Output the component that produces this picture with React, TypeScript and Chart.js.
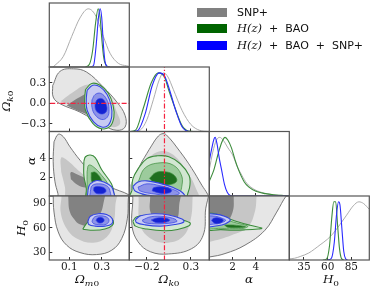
import React, { useEffect, useRef } from "react";
import { Chart, registerables } from "chart.js";

Chart.register(...registerables);

type Pt = [number, number];

const W = 374;
const H = 291;

// ---------- axis ranges ----------
const OM_RANGE: Pt = [-0.023, 0.47];
const OK_RANGE_X: Pt = [-0.4, 0.51];
const OK_RANGE_Y: Pt = [-0.41, 0.53];
const ALPHA_RANGE_X: Pt = [0, 6.86];
const ALPHA_RANGE_Y: Pt = [0, 6.9];
const H0_RANGE_X: Pt = [19.5, 104];
const H0_RANGE_Y: Pt = [21, 98.5];
const PDF_RANGE: Pt = [0, 1.1];

// ---------- ticks ----------
const OM_TICKS = [0.1, 0.3];
const OK_TICKS_X = [-0.2, 0.3];
const OK_TICKS_Y = [-0.3, 0.0, 0.3];
const ALPHA_TICKS = [2, 4];
const H0_TICKS_X = [35, 60, 85];
const H0_TICKS_Y = [30, 60, 90];

// reference line Omega_k0 = 0
const OK_REFERENCE = 0;

// ---------- legend ----------
const LEGEND_MATH = ["", "H(z)", "H(z)"];
const LEGEND_TEXT = ["SNP+", " + BAO", " + BAO + SNP+"];

// ---------- 1D marginals (normalised) ----------
const OM_PDF_SNP: Pt[] = [[0.0, 0], [0.012, 0.03], [0.063, 0.18], [0.115, 0.525], [0.166, 0.844], [0.217, 1.0], [0.259, 0.9], [0.31, 0.525], [0.351, 0.237], [0.402, 0.064], [0.454, 0.02], [0.47, 0.01]];
const OM_PDF_HZ: Pt[] = [[0.2, 0], [0.225, 0.05], [0.245, 0.3], [0.262, 0.75], [0.278, 1.0], [0.29, 0.85], [0.3, 0.5], [0.313, 0.15], [0.33, 0.02], [0.35, 0]];
const OM_PDF_ALL: Pt[] = [[0.23, 0], [0.25, 0.03], [0.265, 0.35], [0.28, 0.85], [0.29, 1.0], [0.3, 0.85], [0.31, 0.4], [0.32, 0.1], [0.335, 0.01], [0.35, 0]];

const OK_PDF_SNP: Pt[] = [[-0.35, 0], [-0.28, 0.02], [-0.2, 0.2], [-0.125, 0.55], [-0.06, 0.88], [-0.01, 1.0], [0.04, 0.93], [0.1, 0.72], [0.2, 0.36], [0.3, 0.12], [0.4, 0.02], [0.5, 0]];
const OK_PDF_HZ: Pt[] = [[-0.4, 0], [-0.33, 0.02], [-0.24, 0.4], [-0.15, 0.83], [-0.07, 1.0], [0.0, 0.93], [0.05, 0.7], [0.12, 0.4], [0.2, 0.1], [0.27, 0.01], [0.35, 0]];
const OK_PDF_ALL: Pt[] = [[-0.35, 0], [-0.3, 0.02], [-0.22, 0.3], [-0.14, 0.78], [-0.06, 1.0], [0.0, 0.95], [0.06, 0.7], [0.13, 0.35], [0.2, 0.08], [0.27, 0.005], [0.35, 0]];

const ALPHA_PDF_SNP: Pt[] = [[0, 0.45], [0.3, 0.75], [0.6, 0.95], [0.9, 1.0], [1.2, 0.95], [1.6, 0.82], [2.0, 0.7], [2.4, 0.5], [2.8, 0.35], [3.2, 0.22], [3.8, 0.12], [4.5, 0.06], [5.5, 0.02], [6.9, 0.0]];
const ALPHA_PDF_HZ: Pt[] = [[0, 0.25], [0.4, 0.45], [0.8, 0.75], [1.1, 0.93], [1.35, 1.0], [1.6, 0.95], [1.9, 0.82], [2.2, 0.62], [2.5, 0.45], [3.0, 0.24], [3.4, 0.15], [4.0, 0.08], [4.8, 0.04], [5.5, 0.02], [6.2, 0.01], [6.9, 0]];
const ALPHA_PDF_ALL: Pt[] = [[0, 0.6], [0.2, 0.8], [0.4, 0.97], [0.5, 1.0], [0.65, 0.9], [0.85, 0.65], [1.05, 0.45], [1.3, 0.2], [1.55, 0.06], [1.8, 0.01], [2.2, 0], [6.9, 0]];

const H0_PDF_SNP: Pt[] = [[19.5, 0.02], [25, 0.03], [31, 0.06], [40, 0.12], [52, 0.26], [60, 0.36], [66, 0.46], [73, 0.61], [80, 0.77], [87, 0.93], [93, 1.0], [98, 0.97], [104, 0.87]];
const H0_PDF_HZ: Pt[] = [[55, 0], [59, 0.02], [62, 0.25], [64.5, 0.75], [66.5, 1.0], [68.5, 1.0], [70.5, 0.6], [72.5, 0.2], [74.5, 0.03], [77, 0]];
const H0_PDF_ALL: Pt[] = [[60, 0], [64, 0.03], [67, 0.3], [69.5, 0.8], [71.5, 1.0], [73, 0.95], [75, 0.55], [77, 0.15], [79, 0.02], [81, 0]];

// ---------- 2D contours: [outer, middle, inner] ----------
// Omega_m0 (x) vs Omega_k0 (y)
const OMOK_SNP: Pt[][] = [
  [[-0.002, 0.26], [0.043, 0.466], [0.125, 0.504], [0.207, 0.456], [0.31, 0.237], [0.393, 0.02], [0.444, -0.175], [0.444, -0.345], [0.393, -0.393], [0.31, -0.32], [0.166, -0.127], [0.043, -0.005], [0.001, 0.092]],
  [[0.047, 0.03], [0.125, 0.165], [0.207, 0.27], [0.29, 0.25], [0.35, 0.12], [0.393, -0.127], [0.413, -0.297], [0.362, -0.345], [0.269, -0.248], [0.146, -0.078]],
  [[0.084, -0.03], [0.166, 0.092], [0.238, 0.165], [0.3, 0.12], [0.33, 0.0], [0.32, -0.15], [0.27, -0.2], [0.2, -0.15], [0.146, -0.1]],
];
const OMOK_HZ: Pt[][] = [
  [[0.2, 0.2], [0.238, 0.29], [0.29, 0.265], [0.34, 0.15], [0.37, -0.03], [0.375, -0.2], [0.35, -0.34], [0.3, -0.37], [0.245, -0.29], [0.2, -0.1], [0.195, 0.06]],
];
const OMOK_ALL: Pt[][] = [
  [[0.21, 0.19], [0.245, 0.265], [0.29, 0.24], [0.333, 0.13], [0.358, -0.03], [0.362, -0.19], [0.34, -0.32], [0.3, -0.345], [0.25, -0.27], [0.21, -0.1], [0.205, 0.06]],
  [[0.24, 0.05], [0.26, 0.13], [0.295, 0.145], [0.33, 0.06], [0.345, -0.08], [0.335, -0.2], [0.3, -0.235], [0.26, -0.17], [0.24, -0.06]],
  [[0.26, 0.0], [0.275, 0.06], [0.305, 0.065], [0.328, -0.02], [0.33, -0.11], [0.305, -0.155], [0.275, -0.13], [0.26, -0.07]],
];

// Omega_m0 (x) vs alpha (y)
const OMAL_SNP: Pt[][] = [
  [[0.006, 5.8], [0.032, 6.6], [0.063, 6.35], [0.104, 5.27], [0.166, 3.84], [0.248, 2.23], [0.351, 0.99], [0.47, 0.1], [0.5, -0.5], [0.04, -0.5], [0.03, 0.27], [0.012, 1.52], [0.001, 3.66]],
  [[0.05, 2.59], [0.05, 4.1], [0.085, 3.85], [0.166, 2.59], [0.27, 1.16], [0.36, 0.2], [0.38, -0.5], [0.09, -0.5], [0.073, 0.99]],
  [[0.11, 1.8], [0.11, 2.55], [0.15, 2.3], [0.21, 1.75], [0.23, 1.2], [0.2, 0.9], [0.15, 1.2]],
];
const OMAL_HZ: Pt[][] = [
  [[0.19, 3.7], [0.2, 4.2], [0.23, 4.38], [0.26, 4.1], [0.3, 2.8], [0.36, 1.3], [0.375, 0.3], [0.38, -0.5], [0.21, -0.5], [0.205, 0.8], [0.19, 2.2]],
  [[0.21, 2.6], [0.22, 3.3], [0.25, 3.1], [0.3, 2.2], [0.34, 1.2], [0.345, 0.3], [0.35, -0.5], [0.22, -0.5], [0.21, 1.5]],
  [[0.235, 2.5], [0.26, 2.55], [0.29, 2.0], [0.3, 1.4], [0.27, 1.2], [0.24, 1.5]],
];
const OMAL_ALL: Pt[][] = [
  [[0.22, 1.0], [0.23, 1.3], [0.27, 1.65], [0.32, 1.45], [0.36, 1.0], [0.375, 0.3], [0.38, -0.5], [0.22, -0.5], [0.215, 0.5]],
  [[0.23, 0.5], [0.24, 1.1], [0.28, 1.3], [0.33, 1.1], [0.35, 0.6], [0.35, -0.5], [0.23, -0.5]],
  [[0.25, 0.6], [0.255, 0.95], [0.29, 1.0], [0.32, 0.8], [0.325, 0.45], [0.3, 0.25], [0.265, 0.3]],
];

// Omega_m0 (x) vs H0 (y)
const OMH0_SNP: Pt[][] = [
  [[0.0, 110], [0.001, 99.3], [0.006, 79.1], [0.032, 55], [0.084, 38.9], [0.166, 30], [0.269, 27.6], [0.362, 32.9], [0.423, 46.9], [0.458, 71], [0.464, 95], [0.47, 110]],
  [[0.05, 110], [0.052, 98], [0.047, 79], [0.084, 59], [0.146, 47], [0.248, 42], [0.331, 49], [0.372, 65], [0.384, 87], [0.385, 110]],
  [[0.094, 110], [0.094, 97], [0.104, 79], [0.14, 68], [0.17, 64], [0.217, 63], [0.279, 73], [0.31, 89], [0.31, 110]],
];
const OMH0_HZ: Pt[][] = [
  [[0.183, 58.2], [0.25, 57], [0.32, 58.5], [0.365, 63], [0.37, 69], [0.34, 74.5], [0.29, 76], [0.24, 72], [0.2, 63.5]],
];
const OMH0_ALL: Pt[][] = [
  [[0.215, 68], [0.23, 74], [0.28, 77], [0.33, 76], [0.365, 71], [0.36, 64.5], [0.32, 62], [0.26, 62], [0.22, 64]],
  [[0.24, 68], [0.255, 73], [0.29, 74.5], [0.33, 73], [0.345, 69], [0.33, 64.5], [0.29, 63.5], [0.25, 65]],
  [[0.265, 69], [0.275, 72], [0.3, 72.5], [0.315, 69.5], [0.305, 66.5], [0.28, 66]],
];

// Omega_k0 (x) vs alpha (y)
const OKAL_SNP: Pt[][] = [
  [[-0.257, 3.66], [-0.143, 5.44], [-0.08, 6.3], [-0.03, 6.65], [0.02, 6.55], [0.178, 4.74], [0.311, 2.95], [0.425, 1.16], [0.49, 0.2], [0.52, -0.5], [-0.45, -0.5], [-0.39, 0.6], [-0.352, 1.88]],
  [[-0.39, 1.2], [-0.3, 2.5], [-0.2, 3.9], [-0.05, 4.8], [0.1, 4.4], [0.254, 2.59], [0.35, 1.0], [0.38, -0.5], [-0.45, -0.5]],
  [[-0.2, 1.0], [-0.15, 2.8], [0.0, 3.4], [0.15, 2.8], [0.22, 1.5], [0.2, 0.5], [0.0, 0.3]],
];
const OKAL_HZ: Pt[][] = [
  [[-0.37, 0.6], [-0.36, 1.8], [-0.3, 2.9], [-0.2, 4.0], [-0.08, 4.3], [0.05, 4.2], [0.18, 3.45], [0.28, 2.2], [0.29, 1.2], [0.27, 0.4], [0.22, -0.5], [-0.4, -0.5]],
  [[-0.3, 1.5], [-0.22, 3.0], [-0.05, 3.55], [0.1, 3.3], [0.19, 2.3], [0.2, 1.2], [0.15, 0.2], [-0.25, 0.2]],
  [[-0.17, 1.9], [-0.1, 2.5], [0.0, 2.6], [0.1, 2.3], [0.14, 1.6], [0.05, 1.2], [-0.1, 1.3]],
];
const OKAL_ALL: Pt[][] = [
  [[-0.36, 1.0], [-0.3, 1.5], [-0.2, 1.62], [-0.05, 1.35], [0.1, 0.9], [0.2, 0.4], [0.23, -0.1], [0.1, -0.3], [-0.2, 0.1], [-0.33, 0.5]],
  [[-0.3, 0.95], [-0.2, 1.3], [-0.05, 1.1], [0.1, 0.7], [0.17, 0.3], [0.1, 0.05], [-0.1, 0.2], [-0.28, 0.55]],
  [[-0.14, 0.55], [-0.12, 0.9], [0.0, 0.95], [0.08, 0.65], [0.06, 0.35], [-0.05, 0.3]],
];

// Omega_k0 (x) vs H0 (y)
const OKH0_SNP: Pt[][] = [
  [[-0.37, 110], [-0.36, 95], [-0.37, 63], [-0.3, 43], [-0.16, 31], [0.045, 28.3], [0.31, 34.8], [0.44, 51], [0.465, 79], [0.465, 110]],
  [[-0.3, 110], [-0.295, 97], [-0.276, 63], [-0.143, 46], [0.045, 42], [0.216, 50], [0.3, 71], [0.32, 97], [0.32, 110]],
  [[-0.165, 110], [-0.163, 97], [-0.16, 79], [-0.07, 65], [0.045, 61], [0.14, 69], [0.167, 87], [0.17, 110]],
];
const OKH0_HZ: Pt[][] = [
  [[-0.36, 68], [-0.32, 73], [-0.2, 75.5], [-0.05, 75], [0.15, 71], [0.29, 66], [0.28, 62.5], [0.15, 58], [0.0, 56.5], [-0.2, 58.5], [-0.33, 62]],
];
const OKH0_ALL: Pt[][] = [
  [[-0.33, 70], [-0.27, 74.5], [-0.12, 77], [0.05, 75.5], [0.2, 70.5], [0.22, 67], [0.12, 64], [-0.05, 62], [-0.22, 63.5], [-0.32, 66.5]],
  [[-0.25, 69.5], [-0.15, 73.5], [0.0, 73.5], [0.12, 70.5], [0.14, 67.5], [0.0, 65], [-0.15, 65], [-0.24, 67]],
  [[-0.15, 69.5], [-0.08, 72], [0.02, 71.5], [0.06, 69], [0.0, 66.5], [-0.1, 66.5]],
];

// alpha (x) vs H0 (y)
const ALH0_SNP: Pt[][] = [
  [[-0.5, 110], [6.9, 110], [6.9, 100], [6.63, 99.3], [5.78, 79], [4.77, 57], [3.06, 39], [1.35, 28.8], [0.06, 24.8], [-0.5, 24.5]],
  [[-0.5, 110], [4.05, 110], [4.05, 99], [3.9, 79], [3.3, 61], [1.9, 51], [0.06, 43], [-0.5, 42.5]],
  [[-0.5, 110], [2.1, 110], [2.1, 99], [2.0, 79], [1.35, 65], [0.06, 59], [-0.5, 58.5]],
];
const ALH0_HZ: Pt[][] = [
  [[-0.5, 78], [0.5, 77], [1.5, 72], [2.5, 67], [3.5, 63], [4.5, 59.6], [4.2, 58.6], [3, 57.5], [2, 57.2], [1, 57.8], [-0.5, 58.5]],
  [[-0.5, 74], [1, 71], [2.3, 66], [3.3, 62], [3.0, 59.5], [2, 58.8], [1, 59.3], [-0.5, 60]],
  [[1.3, 63.5], [2.2, 63.2], [3.1, 61.3], [2.6, 60.2], [1.6, 60.6]],
];
const ALH0_ALL: Pt[][] = [
  [[-0.5, 77], [0.5, 76.5], [1.3, 74], [1.8, 69.5], [1.4, 65], [0.7, 62.5], [-0.5, 62]],
  [[-0.5, 74.5], [0.5, 74], [1.1, 71.5], [1.4, 69], [1.0, 66], [0.4, 64.5], [-0.5, 64.5]],
  [[0.2, 68.5], [0.35, 71.5], [0.8, 72], [1.2, 69.5], [1.0, 66], [0.5, 65.3]],
];

// ---------- styles ----------
const STYLE = {
  snp: { fills: ["#e6e6e6", "#c6c6c6", "#828282"], edge: "#6a6a6a", line: "#a4a4a4", legend: "#808080" },
  hz: { fills: ["#d2e7d2", "#9ccb9c", "#1f6f1f"], edge: "#3c8c3c", line: "#3c8c3c", legend: "#006400" },
  all: { fills: ["#c8cbf3", "#8d93e8", "#1422d2"], edge: "#3444e2", line: "#2a2aff", legend: "#0000ff" },
};
const RED = "#f5223f";

const COLS = ["om", "ok", "alpha", "h0"];
const X_RANGE: Record<string, Pt> = { om: OM_RANGE, ok: OK_RANGE_X, alpha: ALPHA_RANGE_X, h0: H0_RANGE_X };
const Y_RANGE: Record<string, Pt> = { ok: OK_RANGE_Y, alpha: ALPHA_RANGE_Y, h0: H0_RANGE_Y };
const X_TICKS: Record<string, number[]> = { om: OM_TICKS, ok: OK_TICKS_X, alpha: ALPHA_TICKS, h0: H0_TICKS_X };
const Y_TICKS: Record<string, number[]> = { ok: OK_TICKS_Y, alpha: ALPHA_TICKS, h0: H0_TICKS_Y };
const DECIMALS: Record<string, number> = { om: 1, ok: 1, alpha: 0, h0: 0 };

const PDFS: Record<string, Pt[][]> = {
  om: [OM_PDF_SNP, OM_PDF_HZ, OM_PDF_ALL],
  ok: [OK_PDF_SNP, OK_PDF_HZ, OK_PDF_ALL],
  alpha: [ALPHA_PDF_SNP, ALPHA_PDF_HZ, ALPHA_PDF_ALL],
  h0: [H0_PDF_SNP, H0_PDF_HZ, H0_PDF_ALL],
};
const CONTOURS: Record<string, Pt[][][]> = {
  "om-ok": [OMOK_SNP, OMOK_HZ, OMOK_ALL],
  "om-alpha": [OMAL_SNP, OMAL_HZ, OMAL_ALL],
  "om-h0": [OMH0_SNP, OMH0_HZ, OMH0_ALL],
  "ok-alpha": [OKAL_SNP, OKAL_HZ, OKAL_ALL],
  "ok-h0": [OKH0_SNP, OKH0_HZ, OKH0_ALL],
  "alpha-h0": [ALH0_SNP, ALH0_HZ, ALH0_ALL],
};

// panel geometry (layout only)
const COL_LEFT = [49.3, 129.3, 209.3, 289.3];
const COL_W = 80;
const ROW_TOP = [3, 67, 131.5, 196];
const ROW_BOTTOM = [67, 131.5, 196, 260];

const PANELS: { r: number; c: number }[] = [];
for (let r = 0; r < 4; r++) for (let c = 0; c <= r; c++) PANELS.push({ r, c });

const fmt = (v: number, d: number) => (v < 0 ? "\u2212" : "") + Math.abs(v).toFixed(d);

const framePlugin = {
  id: "frame",
  afterDraw(chart: any) {
    const { ctx, chartArea: a } = chart;
    ctx.save();
    ctx.strokeStyle = "#555555";
    ctx.lineWidth = 1.2;
    ctx.strokeRect(a.left, a.top, a.right - a.left, a.bottom - a.top);
    ctx.restore();
  },
};

const SERIES = ["snp", "hz", "all"] as const;

function buildDatasets(r: number, c: number) {
  const xk = COLS[c];
  const list: any[] = [];
  if (r === c) {
    PDFS[xk].forEach((pts, s) => {
      const st = STYLE[SERIES[s]];
      list.push({
        data: pts.map(([x, y]) => ({ x, y })),
        borderColor: st.line,
        borderWidth: s === 0 ? 0.9 : 1.1,
        fill: false,
        cubicInterpolationMode: "monotone",
        pointRadius: 0,
        clip: 0,
      });
    });
    if (xk === "ok") {
      list.push({
        data: [{ x: OK_REFERENCE, y: PDF_RANGE[0] - 1 }, { x: OK_REFERENCE, y: PDF_RANGE[1] + 1 }],
        borderColor: RED, borderWidth: 1.2, borderDash: [5, 2, 1.2, 2], pointRadius: 0, fill: false, clip: 0,
      });
    }
  } else {
    const yk = COLS[r];
    CONTOURS[`${xk}-${yk}`].forEach((levels, s) => {
      const st = STYLE[SERIES[s]];
      levels.forEach((pts, li) => {
        const closed = [...pts, pts[0]];
        const edgeW = s === 0 ? (li === 0 ? 0.9 : 0) : li === 0 ? 1.1 : 0.7;
        list.push({
          data: closed.map(([x, y]) => ({ x, y })),
          backgroundColor: st.fills[li],
          borderColor: st.edge,
          borderWidth: edgeW,
          fill: "shape",
          tension: 0.4,
          pointRadius: 0,
          clip: 0,
        });
      });
    });
    if (xk === "ok") {
      const yr = Y_RANGE[yk];
      list.push({
        data: [{ x: OK_REFERENCE, y: yr[0] - 50 }, { x: OK_REFERENCE, y: yr[1] + 50 }],
        borderColor: RED, borderWidth: 1.2, borderDash: [5, 2, 1.2, 2], pointRadius: 0, fill: false, clip: 0,
      });
    }
    if (yk === "ok") {
      const xr = X_RANGE[xk];
      list.push({
        data: [{ x: xr[0] - 1, y: OK_REFERENCE }, { x: xr[1] + 1, y: OK_REFERENCE }],
        borderColor: RED, borderWidth: 1.2, borderDash: [5, 2, 1.2, 2], pointRadius: 0, fill: false, clip: 0,
      });
    }
  }
  const n = list.length;
  return list.map((d, i) => ({ ...d, order: n - i }));
}

const TICK_FONT = { family: "'DejaVu Serif', serif", size: 10.5 };

function buildConfig(r: number, c: number): any {
  const xk = COLS[c];
  const diag = r === c;
  const yk = diag ? "pdf" : COLS[r];
  const xr = X_RANGE[xk];
  const yr = diag ? PDF_RANGE : Y_RANGE[yk];
  const xt = X_TICKS[xk];
  const yt = diag ? [] : Y_TICKS[yk];
  const showX = r === 3;
  const showY = c === 0 && r > 0;
  const yAxisW = c === 0 ? COL_LEFT[0] : 0;
  const xAxisH = r === 3 ? H - ROW_BOTTOM[3] : 0;
  return {
    type: "line",
    data: { datasets: buildDatasets(r, c) },
    options: {
      responsive: false,
      animation: false,
      events: [],
      layout: {
        padding: {
          left: COL_LEFT[c] - yAxisW,
          right: W - (COL_LEFT[c] + COL_W),
          top: ROW_TOP[r],
          bottom: H - ROW_BOTTOM[r] - xAxisH,
        },
      },
      plugins: { legend: { display: false }, tooltip: { enabled: false } },
      scales: {
        x: {
          type: "linear",
          position: "bottom",
          min: xr[0],
          max: xr[1],
          afterBuildTicks: (s: any) => { s.ticks = xt.map((v) => ({ value: v })); },
          afterFit: (s: any) => { s.height = xAxisH; },
          grid: { display: true, drawOnChartArea: false, drawTicks: true, tickLength: -3, color: "#333", lineWidth: 1 },
          border: { display: false },
          ticks: {
            display: showX,
            autoSkip: false,
            maxRotation: 0,
            padding: 4,
            color: "#1a1a1a",
            font: TICK_FONT,
            callback: (v: number) => fmt(v, DECIMALS[xk]),
          },
        },
        y: {
          type: "linear",
          position: "left",
          min: yr[0],
          max: yr[1],
          afterBuildTicks: (s: any) => { s.ticks = yt.map((v) => ({ value: v })); },
          afterFit: (s: any) => { s.width = yAxisW; },
          grid: { display: true, drawOnChartArea: false, drawTicks: true, tickLength: -3, color: "#333", lineWidth: 1 },
          border: { display: false },
          ticks: {
            display: showY,
            autoSkip: false,
            padding: 6,
            color: "#1a1a1a",
            font: TICK_FONT,
            callback: (v: number) => fmt(v, diag ? 1 : DECIMALS[yk]),
          },
        },
      },
    },
    plugins: [framePlugin],
  };
}

const MATH_FONT = "'DejaVu Serif', serif";

function AxisTitle({ main, subItalic, subDigit, x, y, rotate }: { main: string; subItalic?: string; subDigit?: string; x: number; y: number; rotate?: boolean }) {
  return (
    <div
      style={{
        position: "absolute",
        left: x,
        top: y,
        transform: `translate(-50%, -50%)${rotate ? " rotate(-90deg)" : ""} scale(1, 0.85)`,
        fontFamily: MATH_FONT,
        fontStyle: "italic",
        fontSize: 12,
        lineHeight: "14px",
        whiteSpace: "nowrap",
        color: "#111",
      }}
    >
      {main}
      {subItalic || subDigit ? (
        <span style={{ fontSize: 9, position: "relative", top: 3 }}>
          {subItalic}
          {subDigit ? <span style={{ fontStyle: "normal" }}>{subDigit}</span> : null}
        </span>
      ) : null}
    </div>
  );
}

export default function App() {
  const refs = useRef<(HTMLCanvasElement | null)[]>([]);
  useEffect(() => {
    const charts = PANELS.map((p, i) => new Chart(refs.current[i] as HTMLCanvasElement, buildConfig(p.r, p.c)));
    return () => charts.forEach((ch) => ch.destroy());
  }, []);

  const legendColors = [STYLE.snp.legend, STYLE.hz.legend, STYLE.all.legend];

  return (
    <div style={{ position: "fixed", left: 0, top: 0, width: W, height: H, background: "#fff", overflow: "hidden" }}>
      {PANELS.map((p, i) => (
        <canvas
          key={i}
          ref={(el) => { refs.current[i] = el; }}
          width={W}
          height={H}
          style={{ position: "absolute", left: 0, top: 0, width: W, height: H }}
        />
      ))}
      {LEGEND_TEXT.map((t, i) => (
        <div key={i} style={{ position: "absolute", left: 197, top: 7.5 + i * 16.5, height: 9, display: "flex", alignItems: "center" }}>
          <div style={{ width: 30, height: 9, background: legendColors[i] }} />
          <div style={{ marginLeft: 10, fontFamily: "'DejaVu Sans', sans-serif", fontSize: 11, whiteSpace: "nowrap", color: "#111", lineHeight: "9px" }}>
            {LEGEND_MATH[i] ? <span style={{ fontFamily: MATH_FONT, fontStyle: "italic", fontSize: 11.5 }}>{LEGEND_MATH[i]}</span> : null}
            {t.replace(/ \+ /g, " \u00a0+\u00a0 ")}
          </div>
        </div>
      ))}
      <AxisTitle main={"\u03a9"} subItalic="m" subDigit="0" x={87} y={280} />
      <AxisTitle main={"\u03a9"} subItalic="k" subDigit="0" x={169} y={280} />
      <AxisTitle main={"\u03b1"} x={249} y={279.5} />
      <AxisTitle main="H" subDigit="0" x={331} y={280} />
      <AxisTitle main={"\u03a9"} subItalic="k" subDigit="0" x={7} y={101} rotate />
      <AxisTitle main={"\u03b1"} x={32} y={161} rotate />
      <AxisTitle main="H" subDigit="0" x={22} y={228} rotate />
    </div>
  );
}
